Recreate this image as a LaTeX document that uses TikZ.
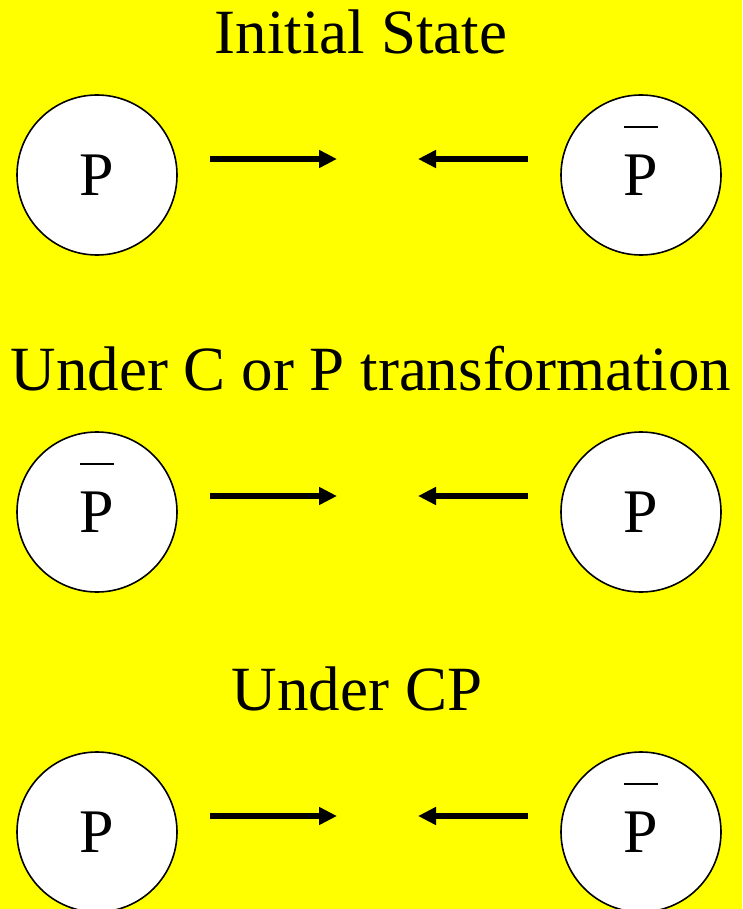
\documentclass[tikz,border=0pt]{standalone}
\usepackage{fontspec}
\setmainfont{Liberation Serif}
\usetikzlibrary{arrows.meta}
\definecolor{bg}{RGB}{255,255,0}
\begin{document}
\begin{tikzpicture}[x=1pt,y=-1pt,
  particle/.style={circle,draw=black,line width=1.6pt,fill=white,minimum size=160pt,inner sep=0pt,font=\fontsize{62}{62}\selectfont},
  title/.style={font=\fontsize{63}{63}\selectfont,anchor=base},
  push/.style={line width=6pt,-{Triangle[length=18pt,width=17pt]}},
  antibar/.style={line width=1.8pt}]
\fill[bg] (0,0) rectangle (742,909);
\useasboundingbox (0,0) rectangle (742,909);

% row 1: initial state
\node[title] (t1) at (361,54) {Initial State};
\node[particle] (a1) at (97,175) {P};
\node[particle] (b1) at (641,175) {P};
\draw[antibar] ([xshift=-17pt,yshift=48pt]b1.center) -- ([xshift=17pt,yshift=48pt]b1.center);
\coordinate (ma1) at (337,159);
\coordinate (mb1) at (418,159);
\draw[push] ([xshift=32pt,yshift=16pt]a1.east) -- (ma1);
\draw[push] ([xshift=-32pt,yshift=16pt]b1.west) -- (mb1);

% row 2: under C or P
\node[title] (t2) at (371,390) {Under C or P transformation};
\node[particle] (a2) at (97,512) {P};
\node[particle] (b2) at (641,512) {P};
\draw[antibar] ([xshift=-17pt,yshift=48pt]a2.center) -- ([xshift=17pt,yshift=48pt]a2.center);
\coordinate (ma2) at (337,496);
\coordinate (mb2) at (418,496);
\draw[push] ([xshift=32pt,yshift=16pt]a2.east) -- (ma2);
\draw[push] ([xshift=-32pt,yshift=16pt]b2.west) -- (mb2);

% row 3: under CP
\node[title] (t3) at (357,710) {Under CP};
\node[particle] (a3) at (97,832) {P};
\node[particle] (b3) at (641,832) {P};
\draw[antibar] ([xshift=-17pt,yshift=48pt]b3.center) -- ([xshift=17pt,yshift=48pt]b3.center);
\coordinate (ma3) at (337,816);
\coordinate (mb3) at (418,816);
\draw[push] ([xshift=32pt,yshift=16pt]a3.east) -- (ma3);
\draw[push] ([xshift=-32pt,yshift=16pt]b3.west) -- (mb3);
\end{tikzpicture}
\end{document}
